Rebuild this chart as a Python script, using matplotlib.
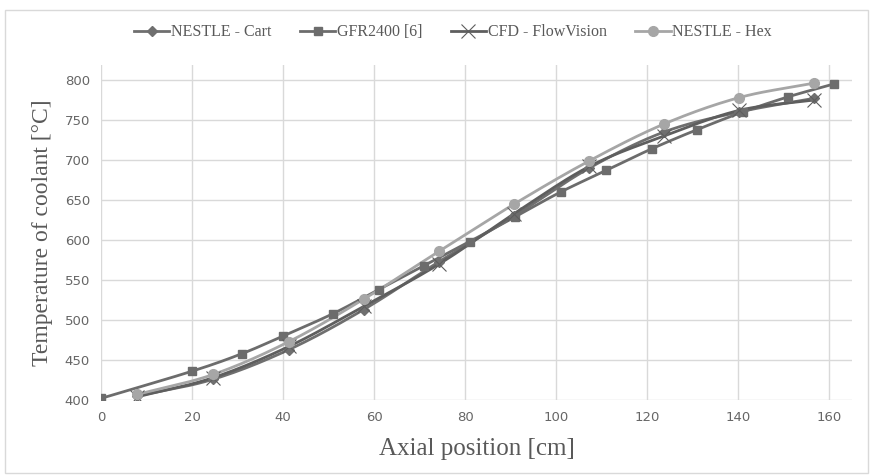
import numpy as np
import matplotlib.pyplot as plt
from matplotlib.patches import Rectangle

# values
gfr_x = [0, 20, 31, 40, 51, 61, 71, 81, 91, 101, 111, 121, 131, 141, 151, 161]
gfr_y = [402, 436, 458, 480, 508, 538, 568, 598, 629, 660, 687, 714, 738, 760, 779, 795]

nestle_x = [8, 24.7, 41.3, 57.7, 74.3, 90.8, 107.3, 123.7, 140.2, 156.6]
cart_y = [405, 426, 463, 513, 573, 630, 690, 735, 760, 777]
cfd_y = [404, 428, 467, 517, 570, 633, 692, 730, 762, 775]
hex_y = [407, 432, 473, 526, 586, 645, 699, 745, 778, 796]

x_ticks = [0, 20, 40, 60, 80, 100, 120, 140, 160]
y_ticks = [400, 450, 500, 550, 600, 650, 700, 750, 800]


def smooth(x, y, n=20):
	# catmull-rom curve through the points, like excel's smoothed lines
	x = np.asarray(x, float)
	y = np.asarray(y, float)
	px = np.concatenate([[2 * x[0] - x[1]], x, [2 * x[-1] - x[-2]]])
	py = np.concatenate([[2 * y[0] - y[1]], y, [2 * y[-1] - y[-2]]])
	xs, ys = [], []
	t = np.linspace(0, 1, n)
	for i in range(1, len(px) - 2):
		for p, out in ((px, xs), (py, ys)):
			p0, p1, p2, p3 = p[i - 1], p[i], p[i + 1], p[i + 2]
			out.extend(0.5 * ((2 * p1) + (-p0 + p2) * t
				+ (2 * p0 - 5 * p1 + 4 * p2 - p3) * t ** 2
				+ (-p0 + 3 * p1 - 3 * p2 + p3) * t ** 3))
	return xs, ys


fig = plt.figure(figsize=(8.71, 4.75), dpi=100)
ax = fig.add_axes([101 / 871, 1 - 400 / 475, 751 / 871, 335 / 475])
fig.patches.append(Rectangle((0.006, 0.004), 0.99, 0.975, transform=fig.transFigure,
	fill=False, edgecolor='#d9d9d9', lw=1))

series = [
	("NESTLE - Cart", nestle_x, cart_y, 'D', '#6f6f6f', 5, 1.0),
	("GFR2400 [6]", gfr_x, gfr_y, 's', '#6c6c6c', 6, 1.0),
	("CFD - FlowVision", nestle_x, cfd_y, 'x', '#5e5e5e', 10, 0.8),
	("NESTLE - Hex", nestle_x, hex_y, 'o', '#a6a6a6', 7, 1.0),
]
handles = []
for name, xs, ys, mk, col, ms, mw in series:
	sx, sy = smooth(xs, ys)
	ax.plot(sx, sy, color=col, lw=2.0, zorder=3)
	ax.plot(xs, ys, ls='none', marker=mk, color=col, ms=ms, mew=mw, zorder=4)
	h, = ax.plot([], [], color=col, lw=2.0, marker=mk, ms=ms, mew=mw, label=name)
	handles.append(h)

ax.set_xlim(0, 165)
ax.set_ylim(400, 818.75)
ax.set_xticks(x_ticks)
ax.set_yticks(y_ticks)
ax.grid(True, color='#d9d9d9', lw=1)
ax.set_axisbelow(True)
for s in ax.spines.values():
	s.set_visible(False)
ax.tick_params(length=0, colors='#666666', labelsize=9.5, pad=8)

serif = ['Liberation Serif', 'DejaVu Serif']
ax.set_xlabel("Axial position [cm]", fontsize=18, family=serif, color='#595959', labelpad=10)
ax.set_ylabel("Temperature of coolant [°C]", fontsize=17, family=serif, color='#595959', labelpad=8)

fig.legend(handles=handles, loc='center', bbox_to_anchor=(0.52, 0.932), ncol=4,
	frameon=False, prop={'family': serif, 'size': 11.5}, handlelength=2.2,
	handletextpad=0.1, columnspacing=1.8, labelcolor='#595959')

fig.savefig('out.png', dpi=100)
